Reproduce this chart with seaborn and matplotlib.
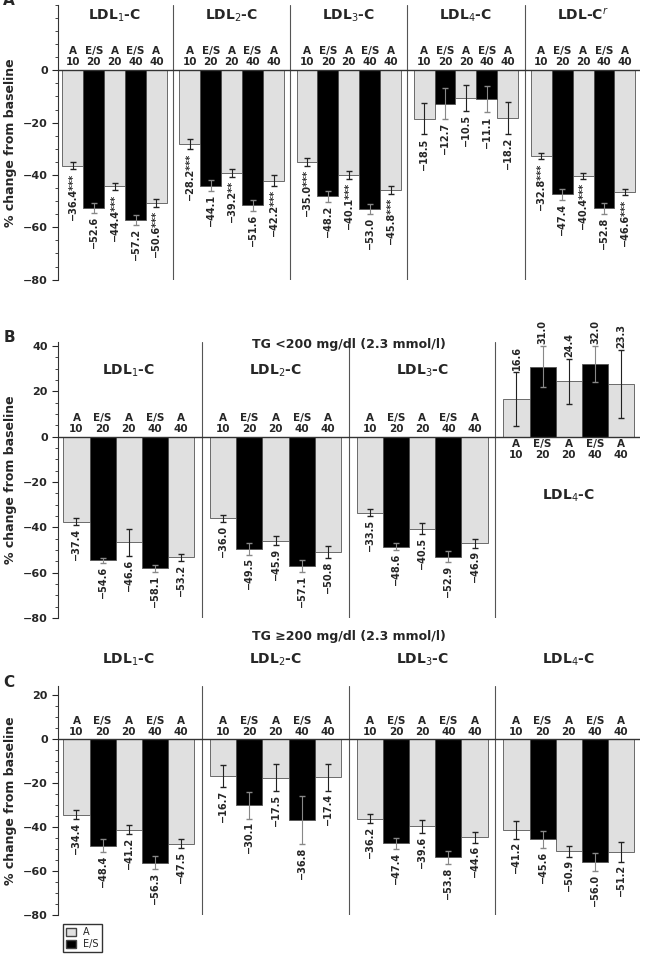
import matplotlib
matplotlib.use("Agg")
import matplotlib.pyplot as plt
import seaborn as sns
import pandas as pd
from matplotlib.patches import Patch
from matplotlib.ticker import MultipleLocator

sns.set_style("white")
plt.rcParams['font.family'] = ['DejaVu Sans']

treat = ["A", "E/S", "A", "E/S", "A"]
dose = ["10", "20", "20", "40", "40"]

A_groups = ["LDL$_1$-C", "LDL$_2$-C", "LDL$_3$-C", "LDL$_4$-C", "LDL-C$^r$"]
A_vals = [[-36.4, -52.6, -44.4, -57.2, -50.6],
          [-28.2, -44.1, -39.2, -51.6, -42.2],
          [-35.0, -48.2, -40.1, -53.0, -45.8],
          [-18.5, -12.7, -10.5, -11.1, -18.2],
          [-32.8, -47.4, -40.4, -52.8, -46.6]]
A_err = [[1.5, 2, 1.5, 2, 1.5], [2, 2, 1.5, 2, 2], [1.5, 2, 1.5, 2, 1.5],
         [6, 6, 5, 5, 6], [1.2, 2, 1.2, 2, 1.2]]
A_stars = [["***", "", "***", "", "***"], ["***", "", "**", "", "***"],
           ["***", "", "***", "", "***"], ["", "", "", "", ""],
           ["***", "", "***", "", "***"]]

B_groups = ["LDL$_1$-C", "LDL$_2$-C", "LDL$_3$-C", "LDL$_4$-C"]
B_vals = [[-37.4, -54.6, -46.6, -58.1, -53.2],
          [-36.0, -49.5, -45.9, -57.1, -50.8],
          [-33.5, -48.6, -40.5, -52.9, -46.9],
          [16.6, 31.0, 24.4, 32.0, 23.3]]
B_err = [[1.5, 1, 6, 1.5, 1.5], [1.5, 2.5, 2, 2.5, 2.5], [1.5, 1.5, 2.5, 2.5, 2],
         [12, 9, 10, 8, 15]]

C_groups = ["LDL$_1$-C", "LDL$_2$-C", "LDL$_3$-C", "LDL$_4$-C"]
C_vals = [[-34.4, -48.4, -41.2, -56.3, -47.5],
          [-16.7, -30.1, -17.5, -36.8, -17.4],
          [-36.2, -47.4, -39.6, -53.8, -44.6],
          [-41.2, -45.6, -50.9, -56.0, -51.2]]
C_err = [[2, 3, 2, 3, 2], [5, 6, 6, 11, 6], [2, 2.5, 3, 3, 2.5],
         [4, 4, 2.5, 4, 4.5]]

pal = {"A": "#e0e0e0", "E/S": "#000000"}
fig = plt.figure(figsize=(6.46, 9.71), dpi=100)
GS = 5.6


def panel(rect, letter, groups, vals, errs, ylim, ticks, glabel_y, stars=None, pos_group=None):
    ax = fig.add_axes(rect)
    rows = []
    for g, gv in enumerate(vals):
        for i, v in enumerate(gv):
            rows.append(dict(pos=g * GS + i, val=v, treat=treat[i]))
    df = pd.DataFrame(rows)
    sns.barplot(data=df, x="pos", y="val", hue="treat", palette=pal, native_scale=True,
                dodge=False, width=1.0, edgecolor="#555555", linewidth=0.6, legend=False, ax=ax)
    for g, gv in enumerate(vals):
        x0 = g * GS
        for i, v in enumerate(gv):
            x = x0 + i
            ax.errorbar(x, v, yerr=errs[g][i], color="#222222" if treat[i] == "A" else "#888888",
                        capsize=2, lw=0.8)
            s = f"\u2212{abs(v):.1f}" if v < 0 else f"{v:.1f}"
            if stars:
                s += stars[g][i]
            if v < 0:
                ax.text(x, v - errs[g][i] - 1.2, s, rotation=90, ha="center", va="top",
                        fontsize=7, fontweight="bold")
                ax.text(x, 1.2, f"{treat[i]}\n{dose[i]}", ha="center", va="bottom",
                        fontsize=7.5, fontweight="bold", linespacing=1.1)
            else:
                ax.text(x, v + errs[g][i] + 1, s, rotation=90, ha="center", va="bottom",
                        fontsize=7, fontweight="bold")
                ax.text(x, -1.2, f"{treat[i]}\n{dose[i]}", ha="center", va="top",
                        fontsize=7.5, fontweight="bold", linespacing=1.1)
        if g == pos_group:
            ax.text(x0 + 2, -26, groups[g], ha="center", va="center", fontsize=10, fontweight="bold")
        else:
            ax.text(x0 + 2, glabel_y, groups[g], ha="center", va="center", fontsize=10,
                    fontweight="bold", clip_on=False)
        if g > 0:
            ax.axvline(x0 - 0.8, color="#555555", lw=0.8)
    ax.axhline(0, color="#333333", lw=1)
    ax.set_xlim(-0.7, (len(vals) - 1) * GS + 4.7)
    ax.set_ylim(*ylim)
    ax.set_yticks(ticks)
    ax.yaxis.set_minor_locator(MultipleLocator(5))
    ax.set_yticklabels([f"\u2212{abs(t)}" if t < 0 else str(t) for t in ticks],
                       fontsize=8, fontweight="bold")
    ax.tick_params(axis="y", which="major", left=True, length=4, width=0.8)
    ax.tick_params(axis="y", which="minor", left=True, length=2, width=0.6)
    ax.set_xticks([])
    ax.set_xlabel("")
    ax.set_ylabel("% change from baseline", fontsize=9, fontweight="bold")
    for k, sp in ax.spines.items():
        sp.set_visible(k == "left")
    ax.spines["left"].set_color("#333333")
    fig.text(0.005, rect[1] + rect[3] + 0.012, letter, fontsize=11, fontweight="bold", va="top")
    return ax


panel([0.09, 0.712, 0.90, 0.283], "A", A_groups, A_vals, A_err, (-80, 25), [0, -20, -40, -60, -80],
      21, stars=A_stars)
ax = panel([0.09, 0.3635, 0.90, 0.2847], "B", B_groups, B_vals, B_err, (-80, 42),
           [40, 20, 0, -20, -40, -60, -80], 29, pos_group=3)
fig.text(0.54, 0.642, "TG <200 mg/dl (2.3 mmol/l)", ha="center", fontsize=9, fontweight="bold")
ax = panel([0.09, 0.0577, 0.90, 0.2353], "C", C_groups, C_vals, C_err, (-80, 24), [20, 0, -20, -40, -60, -80],
           36)
fig.text(0.54, 0.341, "TG \u2265200 mg/dl (2.3 mmol/l)", ha="center", fontsize=9, fontweight="bold")
ax.legend(handles=[Patch(facecolor="#e0e0e0", edgecolor="#444444", label="A"),
                   Patch(facecolor="black", edgecolor="#444444", label="E/S")],
          loc="upper left", bbox_to_anchor=(0.0, -0.02), fontsize=7, frameon=True, edgecolor="black",
          fancybox=False, handlelength=1, handleheight=0.8, borderpad=0.3, labelspacing=0.2)
fig.savefig("out.png", dpi=100)
